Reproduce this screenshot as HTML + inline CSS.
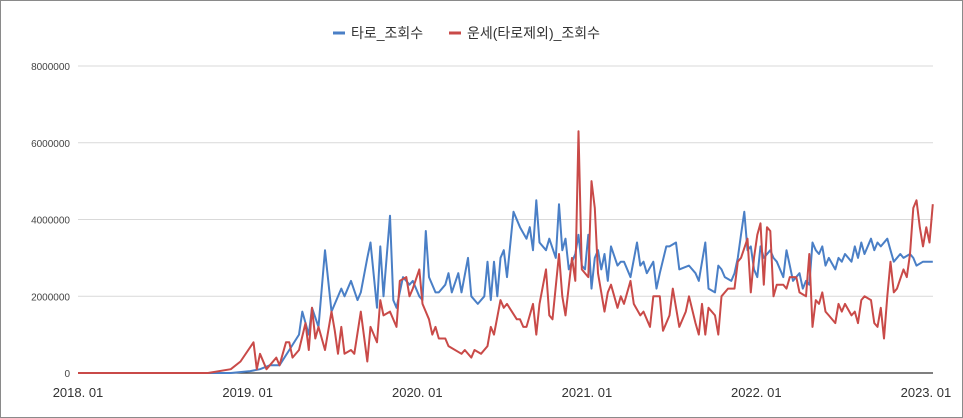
<!DOCTYPE html>
<html><head><meta charset="utf-8">
<style>
html,body{margin:0;padding:0;background:#fff;}
svg{display:block;font-family:"Liberation Sans","Noto Sans CJK KR",sans-serif;}
</style></head>
<body>
<svg width="963" height="418" viewBox="0 0 963 418">
<rect x="0.5" y="0.5" width="962" height="417" fill="#fff" stroke="#8a8a8a"/>
<g id="grid"></g>
<g id="yticks"></g>
<g id="xticks"></g>
<g id="series"></g>
<g>
  <g>
    <line x1="333" y1="33" x2="345" y2="33" stroke="#4a7fc6" stroke-width="3"/>
    <text x="351" y="38" font-size="14" fill="#333">타로_조회수</text>
  </g>
  <g>
    <line x1="449" y1="33" x2="461" y2="33" stroke="#c94a48" stroke-width="3"/>
    <text x="467" y="38" font-size="14" fill="#333">운세(타로제외)_조회수</text>
  </g>
</g>
</svg>
<script>
const yTickValues=[0,2000000,4000000,6000000,8000000];
const xTickLabels=["2018. 01","2019. 01","2020. 01","2021. 01","2022. 01","2023. 01"];
const xTickWeeks=[0,52.2,104.4,156.6,208.7,260.9];
const tarotWeeks=[0,47,53,56,59,62,65,68,69,71,72,74,76,78,81,82,84,86,87,89,90,92,93,94,96,97,98,100,102,103,105,106,107,108,110,111,113,114,115,117,118,120,121,123,125,126,127,128,129,130,131,132,134,136,138,139,140,141,142,144,145,147,148,149,150,151,153,154,155,156,157,158,159,160,161,162,163,164,166,167,168,170,172,173,174,175,177,178,179,181,182,184,185,188,190,191,193,194,196,197,198,199,201,202,203,204,205,206,207,208,209,210,211,213,214,215,217,218,219,220,222,223,224,225,226,227,228,229,230,231,233,234,235,236,238,239,240,241,242,244,245,246,247,249,250,251,253,254,256,257,258,260,263];
const tarotValues=[0,0,0.05,0.1,0.2,0.2,0.6,1.0,1.6,1.0,1.7,1.2,3.2,1.6,2.2,2.0,2.4,1.9,2.1,3.0,3.4,1.7,3.3,2.0,4.1,1.9,1.7,2.5,2.3,2.4,2.0,1.9,3.7,2.5,2.1,2.1,2.3,2.6,2.1,2.6,2.1,3.0,2.0,1.8,2.0,2.9,1.9,2.9,2.0,3.0,3.2,2.5,4.2,3.8,3.5,3.8,3.2,4.5,3.4,3.2,3.5,3.0,4.4,3.2,3.5,2.7,3.1,3.6,2.8,2.7,3.6,2.2,3.0,3.2,2.7,3.1,2.4,3.3,2.8,2.9,2.9,2.5,3.4,2.8,2.9,2.6,2.9,2.2,2.6,3.3,3.3,3.4,2.7,2.8,2.6,2.4,3.4,2.2,2.1,2.8,2.7,2.5,2.4,2.6,3.0,3.6,4.2,3.2,3.3,2.7,2.5,3.3,3.0,3.2,3.0,2.9,2.5,3.2,2.8,2.4,2.6,2.2,2.4,2.3,3.4,3.2,3.1,3.3,2.8,3.0,2.7,3.0,2.9,3.1,2.9,3.3,3.0,3.4,3.1,3.5,3.2,3.4,3.3,3.5,3.2,2.9,3.1,3.0,3.1,3.0,2.8,2.9,2.9];
const fortuneWeeks=[0,40,47,50,54,55,56,58,59,61,62,64,65,66,68,70,71,72,73,74,76,78,79,80,81,82,84,85,87,89,90,91,92,93,94,96,98,99,101,102,103,105,106,108,109,110,111,113,114,118,119,121,122,124,126,127,128,130,131,132,135,136,137,138,140,141,142,144,145,146,148,149,150,152,153,154,155,157,158,159,160,162,163,164,166,167,168,170,171,173,174,176,177,179,180,182,183,185,187,188,190,191,192,193,194,196,197,198,200,202,203,204,206,207,208,209,210,211,212,213,214,215,217,218,219,221,222,224,225,226,227,228,229,230,231,233,234,235,236,238,239,240,241,242,244,245,246,247,248,249,250,251,252,254,255,256,257,258,259,260,261,262,263];
const fortuneValues=[0,0,0.1,0.3,0.8,0.1,0.5,0.1,0.2,0.4,0.2,0.8,0.8,0.4,0.6,1.3,0.6,1.7,0.9,1.2,0.6,1.6,1.1,0.5,1.2,0.5,0.6,0.5,1.6,0.3,1.2,1.0,0.8,1.9,1.5,1.6,1.2,2.4,2.5,2.0,2.2,2.7,1.8,1.4,1.0,1.2,0.9,0.9,0.7,0.5,0.6,0.4,0.6,0.5,0.7,1.2,1.0,1.9,1.7,1.8,1.4,1.4,1.2,1.2,1.8,1.0,1.8,2.7,1.5,1.4,3.1,2.0,1.5,3.0,2.4,6.3,2.7,2.5,5.0,4.3,2.6,1.6,2.1,2.3,1.7,2.0,1.8,2.4,1.8,1.5,1.6,1.2,2.0,2.0,1.1,1.5,2.2,1.2,1.6,2.0,1.3,1.0,1.8,1.0,1.7,1.5,1.0,2.0,2.2,2.2,2.9,3.0,3.5,2.1,3.0,3.6,3.9,2.3,3.8,3.7,2.0,2.3,2.3,2.2,2.5,2.5,2.1,2.0,3.1,1.2,1.9,1.8,2.1,1.6,1.5,1.3,1.8,1.6,1.8,1.5,1.6,1.3,1.9,2.0,1.9,1.3,1.2,1.7,0.9,2.0,2.9,2.1,2.2,2.7,2.5,3.1,4.3,4.5,3.8,3.3,3.8,3.4,4.4];
const NS="http://www.w3.org/2000/svg";
const X0=78,PXW=3.25,Y0=373,PXV=307/8000000;
function xs(w){return X0+w*PXW;}
function ys(v){return Y0-v*PXV;}
const grid=document.getElementById('grid'),yt=document.getElementById('yticks'),xt=document.getElementById('xticks'),ser=document.getElementById('series');
yTickValues.forEach(v=>{
  const l=document.createElementNS(NS,'line');
  l.setAttribute('x1',78);l.setAttribute('x2',933);
  l.setAttribute('y1',ys(v));l.setAttribute('y2',ys(v));
  l.setAttribute('stroke',v===0?'#333':'#d9d9d9');l.setAttribute('stroke-width',v===0?1.2:1);
  
  
  grid.appendChild(l);
  const t=document.createElementNS(NS,'text');
  t.setAttribute('x',70);t.setAttribute('y',ys(v)+4);t.setAttribute('text-anchor','end');
  t.setAttribute('font-size','10');t.setAttribute('fill','#444');t.textContent=String(v);
  
  
  yt.appendChild(t);
});
xTickLabels.forEach((s,i)=>{
  const t=document.createElementNS(NS,'text');
  t.setAttribute('x',xs(xTickWeeks[i]));t.setAttribute('y',397);t.setAttribute('text-anchor','middle');
  t.setAttribute('font-size','13');t.setAttribute('fill','#333');t.textContent=s;
  
  
  xt.appendChild(t);
});
function drawLine(weeks,vals,color,name){
  const p=document.createElementNS(NS,'polyline');
  p.setAttribute('points',weeks.map((w,i)=>xs(w).toFixed(1)+','+ys(vals[i]*1e6).toFixed(1)).join(' '));
  p.setAttribute('fill','none');p.setAttribute('stroke',color);p.setAttribute('stroke-width','2');
  p.setAttribute('stroke-linejoin','round');
  
  
  ser.appendChild(p);
}
drawLine(tarotWeeks,tarotValues,'#4a7fc6','tarot-line');
drawLine(fortuneWeeks,fortuneValues,'#c94a48','fortune-line');
</script>
</body></html>
